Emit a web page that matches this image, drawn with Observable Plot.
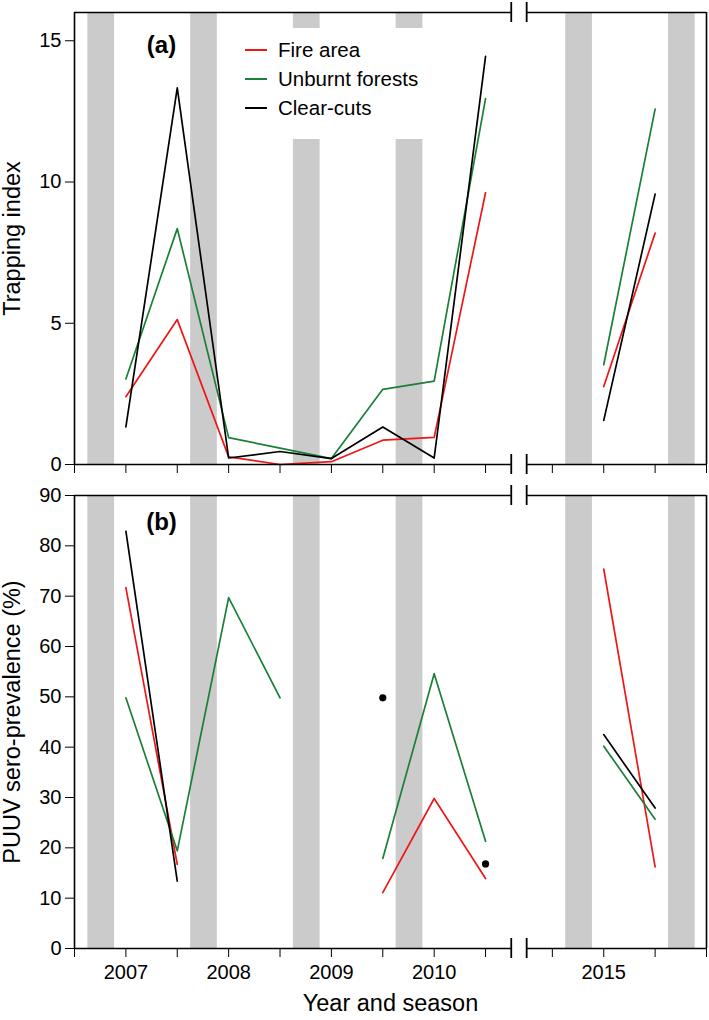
<!DOCTYPE html>
<html><head><meta charset="utf-8">
<script src="https://cdn.jsdelivr.net/npm/d3@7"></script>
<script src="https://cdn.jsdelivr.net/npm/@observablehq/plot@0.6"></script>
<style>
body{margin:0;background:#fff;font-family:"Liberation Sans",Arial,sans-serif;}
#wrap{position:relative;width:709px;height:1020px;}
#wrap svg{display:block;}
svg [aria-label*="axis"] line{stroke-width:1.4px;}
#legend{position:absolute;left:225px;top:28px;width:215px;height:111px;background:#fff;}
.row{position:absolute;left:20px;height:24px;display:flex;align-items:center;font-size:20.5px;color:#000;white-space:nowrap;}
.sw{width:22px;height:0;border-top:2px solid;margin-right:11px;}
</style>
</head><body>
<div id="wrap"><div id="pa"></div><div id="pb"></div><div id="legend"></div></div>
<script>
// ---- data ----
const seasons = ["2007 spring","2007 autumn","2008 spring","2008 autumn","2009 spring","2009 autumn","2010 spring","2010 autumn","2015 spring","2015 autumn"];
const seriesNames = ["Fire area","Unburnt forests","Clear-cuts"];
const seriesColors = ["#ee1616","#1a7f37","#000000"];
// (a) Trapping index
const trapFire     = [2.40, 5.13, 0.27, 0.00, 0.10, 0.86, 0.96, 9.62, 2.76, 8.19];
const trapUnburnt  = [3.03, 8.35, 0.95, 0.58, 0.21, 2.66, 2.95, 12.95, 3.53, 12.58];
const trapClear    = [1.33, 13.33, 0.23, 0.46, 0.21, 1.33, 0.23, 14.45, 1.56, 9.57];
// (b) PUUV sero-prevalence (%)
const seroFire     = [71.7, 16.7, null, null, null, 11.1, 29.8, 13.9, 75.4, 16.2];
const seroUnburnt  = [49.8, 19.4, 69.7, 49.8, null, 17.9, 54.6, 21.3, 40.2, 25.7];
const seroClear    = [82.9, 13.4, null, null, null, 49.8, null, 16.8, 42.5, 27.9];
const winterYears  = [2007, 2008, 2009, 2010, 2015, 2016];
const yearLabels   = ["2007","2008","2009","2010","2015"];
const trapTicks    = [0, 5, 10, 15];
const seroTicks    = [0, 10, 20, 30, 40, 50, 60, 70, 80, 90];

// ---- broken x axis helpers ----
const GAP = 0.3;
function pos(year, season) {
  const s = season === "autumn" ? 1 : 0;
  if (year <= 2010) return (year - 2007) * 2 + 1 + s;
  return 8.5 + GAP + 1.5 + (year - 2015) * 2 + s;
}
const leftEnd = 8.5, rightStart = 8.5 + GAP, xMax = pos(2016, "spring");
const xTicks = [...d3.range(0, 9), ...[[2014,"autumn"],[2015,"spring"],[2015,"autumn"],[2016,"spring"]].map(([y,s]) => pos(y,s))];
const labelMap = new Map(yearLabels.map(y => [Math.round(pos(+y, "spring") * 10), y]));
const bands = winterYears.map(y => ({x1: pos(y, "spring") - 0.74, x2: pos(y, "spring") - 0.22}));

function partOf(i) { return +seasons[i].split(" ")[0] <= 2010 ? 0 : 1; }
function rowsFor(arrays) {
  const out = [];
  arrays.forEach((arr, k) => {
    arr.forEach((v, i) => {
      const [yr, se] = seasons[i].split(" ");
      const part = partOf(i);
      const prevOk = i > 0 && arr[i-1] != null && partOf(i-1) === part;
      const nextOk = i < arr.length - 1 && arr[i+1] != null && partOf(i+1) === part;
      out.push({series: seriesNames[k], k, pos: pos(+yr, se), value: v, part, isolated: v != null && !prevOk && !nextOk});
    });
  });
  return out;
}

function panel({height, marginTop, marginBottom, yMax, yTicks, arrays, tag, tagDy, ylabel, showLabels, xlabel}) {
  const rows = rowsFor(arrays);
  const breaks = [];
  for (const x of [leftEnd, rightStart]) for (const y of [0, yMax]) breaks.push({x, y});
  const marks = [
    Plot.rect(bands, {x1: "x1", x2: "x2", y1: 0, y2: yMax, fill: "#cbcbcb"}),
  ];
  seriesNames.forEach((name, k) => {
    marks.push(Plot.line(rows.filter(d => d.k === k), {x: "pos", y: "value", z: "part", stroke: seriesColors[k], strokeWidth: 1.7}));
    marks.push(Plot.dot(rows.filter(d => d.k === k && d.isolated), {x: "pos", y: "value", r: 3.6, fill: seriesColors[k], stroke: null}));
  });
  marks.push(
    Plot.ruleY([0, yMax], {x1: 0, x2: leftEnd, stroke: "#000", strokeWidth: 1.6}),
    Plot.ruleY([0, yMax], {x1: rightStart, x2: xMax, stroke: "#000", strokeWidth: 1.6}),
    Plot.ruleX([0, xMax], {y1: 0, y2: yMax, stroke: "#000", strokeWidth: 1.6}),
    Plot.ruleX(breaks, {x: "x", y1: "y", y2: "y", insetTop: -10, insetBottom: -10, stroke: "#000", strokeWidth: 1.8}),
    Plot.text([tag], {frameAnchor: "top-left", dx: 87, dy: tagDy, textAnchor: "middle", lineAnchor: "middle", fontWeight: "bold", fontSize: 24}),
    Plot.text([ylabel], {frameAnchor: "left", dx: -62, rotate: -90, textAnchor: "middle", lineAnchor: "middle", fontSize: 23.5})
  );
  if (xlabel) marks.push(Plot.text([xlabel], {frameAnchor: "bottom", dy: 55, textAnchor: "middle", lineAnchor: "middle", fontSize: 23.5}));
  return Plot.plot({
    width: 709, height, marginLeft: 74, marginRight: 3, marginTop, marginBottom,
    style: {fontFamily: "'Liberation Sans', Arial, sans-serif", fontSize: "20px", background: "transparent", overflow: "visible"},
    x: {type: "linear", domain: [0, xMax], ticks: xTicks, tickSize: 9, tickPadding: 7, label: null,
        tickFormat: d => showLabels ? (labelMap.get(Math.round(d * 10)) || "") : ""},
    y: {domain: [0, yMax], ticks: yTicks, tickSize: 9, tickPadding: 4, label: null, tickFormat: d => String(d)},
    marks
  });
}

document.getElementById("pa").appendChild(panel({
  height: 480, marginTop: 12, marginBottom: 16, yMax: 16, yTicks: trapTicks,
  arrays: [trapFire, trapUnburnt, trapClear], tag: "(a)", tagDy: 33, ylabel: "Trapping index", showLabels: false
}));
document.getElementById("pb").appendChild(panel({
  height: 540, marginTop: 15, marginBottom: 72, yMax: 90, yTicks: seroTicks,
  arrays: [seroFire, seroUnburnt, seroClear], tag: "(b)", tagDy: 27, ylabel: "PUUV sero-prevalence (%)", showLabels: true, xlabel: "Year and season"
}));

// legend (HTML, overlaid on panel a)
const legend = document.getElementById("legend");
seriesNames.forEach((name, k) => {
  const row = document.createElement("div");
  row.className = "row";
  row.style.top = (10 + k * 29) + "px";
  const sw = document.createElement("span");
  sw.className = "sw"; sw.style.borderTopColor = seriesColors[k];
  const tx = document.createElement("span");
  tx.textContent = name;
  row.appendChild(sw); row.appendChild(tx);
  legend.appendChild(row);
});
</script>
</body></html>
